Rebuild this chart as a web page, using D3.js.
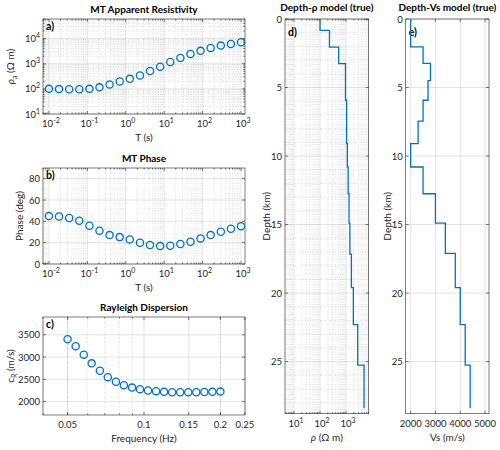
<!DOCTYPE html>
<html>
<head>
<meta charset="utf-8">
<script src="https://cdn.jsdelivr.net/npm/d3@7"></script>
<style>
  body { margin: 0; background: #fff; }
  svg { font-family: Lato, "Open Sans", sans-serif; }
</style>
</head>
<body>
<svg id="fig" width="500" height="450"></svg>
<script>
// MT data (period in s)
const periods = [0.01, 0.0183, 0.0336, 0.0616, 0.113, 0.207, 0.379, 0.695, 1.27, 2.34,
                 4.28, 7.85, 14.4, 26.4, 48.3, 88.6, 162, 298, 546, 1000];
const rhoApparent = [100, 98, 96, 96, 100, 115, 150, 195, 250, 340,
                     510, 760, 1170, 1700, 2450, 3250, 4250, 5250, 6100, 7100];
const phaseDeg = [44.9, 44.5, 43.1, 40.5, 35.8, 31.2, 27.1, 25.2, 23.0, 19.9,
                  17.8, 16.8, 17.1, 18.7, 20.9, 24.0, 27.1, 30.2, 33.0, 35.5];

// Rayleigh dispersion
const freqHz = [0.05, 0.0538, 0.0579, 0.0622, 0.067, 0.072, 0.0775, 0.0833, 0.0897, 0.0964,
                0.1037, 0.1116, 0.12, 0.1291, 0.1389, 0.1494, 0.1607, 0.1729, 0.1859, 0.2];
const cR = [3400, 3245, 3055, 2860, 2695, 2550, 2445, 2370, 2315, 2280,
            2250, 2235, 2220, 2210, 2210, 2210, 2210, 2215, 2220, 2225];

// true models (layer tops in km)
const rhoTops = [0, 0.83, 2.05, 3.25, 5.93, 9.1, 10.8, 12.75, 14.9, 17.15, 19.6, 22.3, 25.25];
const rhoModel = [100, 230, 520, 950, 1050, 1120, 1200, 1300, 1400, 1600, 1900, 2800, 4900];
const vsTops = [0, 2.04, 3.24, 4.5, 5.93, 7.45, 9.1, 10.8, 12.75, 14.9, 17.1, 19.6, 22.3, 25.25];
const vsModel = [2000, 2500, 2800, 2700, 2500, 2300, 2000, 2500, 3000, 3400, 3800, 4000, 4200, 4400];
const modelBottom = 28.4;

const svg = d3.select('#fig');
const blue = '#0072BD';
const axisCol = '#262626';

function logTicks(domain) {
  const lo = Math.floor(Math.log10(domain[0])), hi = Math.ceil(Math.log10(domain[1]));
  const major = [], minor = [];
  for (let e = lo; e <= hi; e++) {
    const b = Math.pow(10, e);
    if (b >= domain[0] && b <= domain[1]) major.push(b);
    for (let k = 2; k < 10; k++) {
      const v = k * b;
      if (v >= domain[0] && v <= domain[1]) minor.push(v);
    }
  }
  return { major, minor };
}

// "10" with superscript exponent
function powLabel(sel, v) {
  const e = Math.round(Math.log10(v));
  sel.append('tspan').text('10');
  sel.append('tspan').attr('dy', -4).attr('font-size', 7).text(e);
}

function drawAxes(p) {
  const [x0, x1] = p.x.range();
  const y0 = d3.min(p.y.range()), y1 = d3.max(p.y.range());
  const g = svg.append('g');

  // minor grid
  const minorStyle = s => s.attr('stroke', axisCol).attr('stroke-opacity', 0.3)
    .attr('stroke-width', 0.5).attr('stroke-dasharray', '1,1.5');
  g.selectAll(null).data(p.xMinor || []).join('line')
    .attr('x1', d => p.x(d)).attr('x2', d => p.x(d)).attr('y1', y0).attr('y2', y1).call(minorStyle);
  g.selectAll(null).data(p.yMinor || []).join('line')
    .attr('y1', d => p.y(d)).attr('y2', d => p.y(d)).attr('x1', x0).attr('x2', x1).call(minorStyle);

  // major grid
  const majorStyle = s => s.attr('stroke', axisCol).attr('stroke-opacity', 0.15).attr('stroke-width', 0.8);
  g.selectAll(null).data(p.xMajor).join('line')
    .attr('x1', d => p.x(d)).attr('x2', d => p.x(d)).attr('y1', y0).attr('y2', y1).call(majorStyle);
  g.selectAll(null).data(p.yMajor).join('line')
    .attr('y1', d => p.y(d)).attr('y2', d => p.y(d)).attr('x1', x0).attr('x2', x1).call(majorStyle);

  // tick marks, inside, on all four sides
  const tk = s => s.attr('stroke', axisCol).attr('stroke-width', 0.6);
  [[p.xMajor, 3], [p.xMinor || [], 1.6]].forEach(([arr, len]) => {
    g.selectAll(null).data(arr).join('line')
      .attr('x1', d => p.x(d)).attr('x2', d => p.x(d)).attr('y1', y1).attr('y2', y1 - len).call(tk);
    g.selectAll(null).data(arr).join('line')
      .attr('x1', d => p.x(d)).attr('x2', d => p.x(d)).attr('y1', y0).attr('y2', y0 + len).call(tk);
  });
  [[p.yMajor, 3], [p.yMinorTicks || [], 1.6]].forEach(([arr, len]) => {
    g.selectAll(null).data(arr).join('line')
      .attr('y1', d => p.y(d)).attr('y2', d => p.y(d)).attr('x1', x0).attr('x2', x0 + len).call(tk);
    g.selectAll(null).data(arr).join('line')
      .attr('y1', d => p.y(d)).attr('y2', d => p.y(d)).attr('x1', x1).attr('x2', x1 - len).call(tk);
  });

  // tick labels
  g.selectAll(null).data(p.xMajor).join('text')
    .attr('x', d => p.x(d)).attr('y', y1 + 13)
    .attr('text-anchor', 'middle').attr('font-size', 9.5).attr('fill', axisCol)
    .each(function (d) {
      const t = d3.select(this);
      if (p.xLog) { t.attr('dx', 2); powLabel(t, d); } else t.text(p.xFmt ? p.xFmt(d) : d);
    });
  g.selectAll(null).data(p.yMajor).join('text')
    .attr('x', x0 - 3).attr('y', d => p.y(d) + 3.5)
    .attr('text-anchor', 'end').attr('font-size', 9.5).attr('fill', axisCol)
    .each(function (d) {
      const t = d3.select(this);
      if (p.yLog) powLabel(t, d); else t.text(d);
    });

  // box
  g.append('rect').attr('x', x0).attr('y', y0).attr('width', x1 - x0).attr('height', y1 - y0)
    .attr('fill', 'none').attr('stroke', axisCol).attr('stroke-width', 0.6);

  // title
  g.append('text').attr('x', (x0 + x1) / 2).attr('y', y0 - p.titleDy)
    .attr('text-anchor', 'middle').attr('font-size', 10).attr('font-weight', 'bold')
    .attr('fill', '#000').text(p.title);

  // panel tag
  g.append('text').attr('x', x0 + 3).attr('y', y0 + p.tagDy)
    .attr('font-size', 10.5).attr('font-weight', 'bold').attr('fill', '#000').text(p.tag);

  // x label
  const xl = g.append('text').attr('x', (x0 + x1) / 2).attr('y', y1 + 27)
    .attr('text-anchor', 'middle').attr('font-size', 10).attr('fill', axisCol);
  p.xLabel(xl);

  // y label
  const yl = g.append('text')
    .attr('transform', `translate(${x0 - p.yLabelOff},${(y0 + y1) / 2}) rotate(-90)`)
    .attr('text-anchor', 'middle').attr('font-size', 10).attr('fill', axisCol);
  p.yLabel(yl);
  return g;
}

function circles(g, xs, ys, x, y) {
  g.selectAll(null).data(xs).join('circle')
    .attr('cx', d => x(d)).attr('cy', (d, i) => y(ys[i])).attr('r', 3.6)
    .attr('fill', 'none').attr('stroke', blue).attr('stroke-width', 1.3);
}

// ---- a) apparent resistivity
const xT = d3.scaleLog().domain([0.007, 1270]).range([43, 245]);
const tT = logTicks(xT.domain());
const yRa = d3.scaleLog().domain([10, 60000]).range([114, 19]);
const tRa = logTicks(yRa.domain());
const gA = drawAxes({
  x: xT, y: yRa, xMajor: tT.major, xMinor: tT.minor, xLog: true,
  yMajor: tRa.major, yMinor: tRa.minor, yMinorTicks: tRa.minor, yLog: true,
  title: 'MT Apparent Resistivity', titleDy: 6, tag: 'a)', tagDy: 11, yLabelOff: 29,
  xLabel: t => t.text('T (s)'),
  yLabel: t => {
    t.append('tspan').attr('font-style', 'italic').text('ρ');
    t.append('tspan').attr('font-size', 7).attr('dy', 3).text('a');
    t.append('tspan').attr('dy', -3).text(' (Ω m)');
  }
});
circles(gA, periods, rhoApparent, xT, yRa);

// ---- b) phase
const xT2 = xT.copy();
const yPh = d3.scaleLinear().domain([0, 90]).range([264, 168]);
const gB = drawAxes({
  x: xT2, y: yPh, xMajor: tT.major, xMinor: tT.minor, xLog: true,
  yMajor: [0, 20, 40, 60, 80],
  title: 'MT Phase', titleDy: 6, tag: 'b)', tagDy: 11, yLabelOff: 20,
  xLabel: t => t.text('T (s)'),
  yLabel: t => t.text('Phase (deg)')
});
circles(gB, periods, phaseDeg, xT2, yPh);

// ---- c) Rayleigh dispersion
const xF = d3.scaleLog().domain([0.04, 0.25]).range([43, 245]);
const tF = logTicks(xF.domain());
const yC = d3.scaleLinear().domain([1700, 3900]).range([415, 317]);
const gC = drawAxes({
  x: xF, y: yC, xMajor: [0.05, 0.1, 0.15, 0.2, 0.25], xMinor: tF.minor,
  xFmt: d => String(d),
  yMajor: [2000, 2500, 3000, 3500],
  title: 'Rayleigh Dispersion', titleDy: 6, tag: 'c)', tagDy: 11, yLabelOff: 29,
  xLabel: t => t.text('Frequency (Hz)'),
  yLabel: t => {
    t.append('tspan').text('c');
    t.append('tspan').attr('font-size', 7).attr('dy', 3).text('R');
    t.append('tspan').attr('dy', -3).text(' (m/s)');
  }
});
circles(gC, freqHz, cR, xF, yC);

// step profile vs depth
function profile(tops, vals) {
  const pts = [];
  vals.forEach((v, i) => {
    pts.push([v, tops[i]]);
    pts.push([v, i + 1 < tops.length ? tops[i + 1] : modelBottom]);
  });
  return pts;
}
const depthMinor = d3.range(1, 29, 1).filter(d => d % 5 !== 0);

// ---- d) depth - rho (depth grows downward)
const xR = d3.scaleLog().domain([4.5, 7400]).range([285, 368.7]);
const tR = logTicks(xR.domain());
const yD = d3.scaleLinear().domain([0, 28.8]).range([19, 413.7]);
const gD = drawAxes({
  x: xR, y: yD, xMajor: tR.major, xMinor: tR.minor, xLog: true,
  yMajor: [0, 5, 10, 15, 20, 25], yMinor: depthMinor,
  title: 'Depth-ρ model (true)', titleDy: 8, tag: 'd)', tagDy: 17, yLabelOff: 15,
  xLabel: t => {
    t.append('tspan').attr('font-style', 'italic').text('ρ');
    t.append('tspan').text(' (Ω m)');
  },
  yLabel: t => t.text('Depth (km)')
});
gD.append('path').datum(profile(rhoTops, rhoModel))
  .attr('d', d3.line().x(d => xR(d[0])).y(d => yD(d[1])))
  .attr('fill', 'none').attr('stroke', blue).attr('stroke-width', 1.3);

// ---- e) depth - Vs
const xV = d3.scaleLinear().domain([1800, 5160]).range([405.7, 489]);
const yD2 = yD.copy();
const gE = drawAxes({
  x: xV, y: yD2, xMajor: [2000, 3000, 4000, 5000],
  yMajor: [0, 5, 10, 15, 20, 25],
  title: 'Depth-Vs model (true)', titleDy: 8, tag: 'e)', tagDy: 17, yLabelOff: 15,
  xLabel: t => t.text('Vs (m/s)'),
  yLabel: t => t.text('Depth (km)')
});
gE.append('path').datum(profile(vsTops, vsModel))
  .attr('d', d3.line().x(d => xV(d[0])).y(d => yD2(d[1])))
  .attr('fill', 'none').attr('stroke', blue).attr('stroke-width', 1.3);
</script>
</body>
</html>
